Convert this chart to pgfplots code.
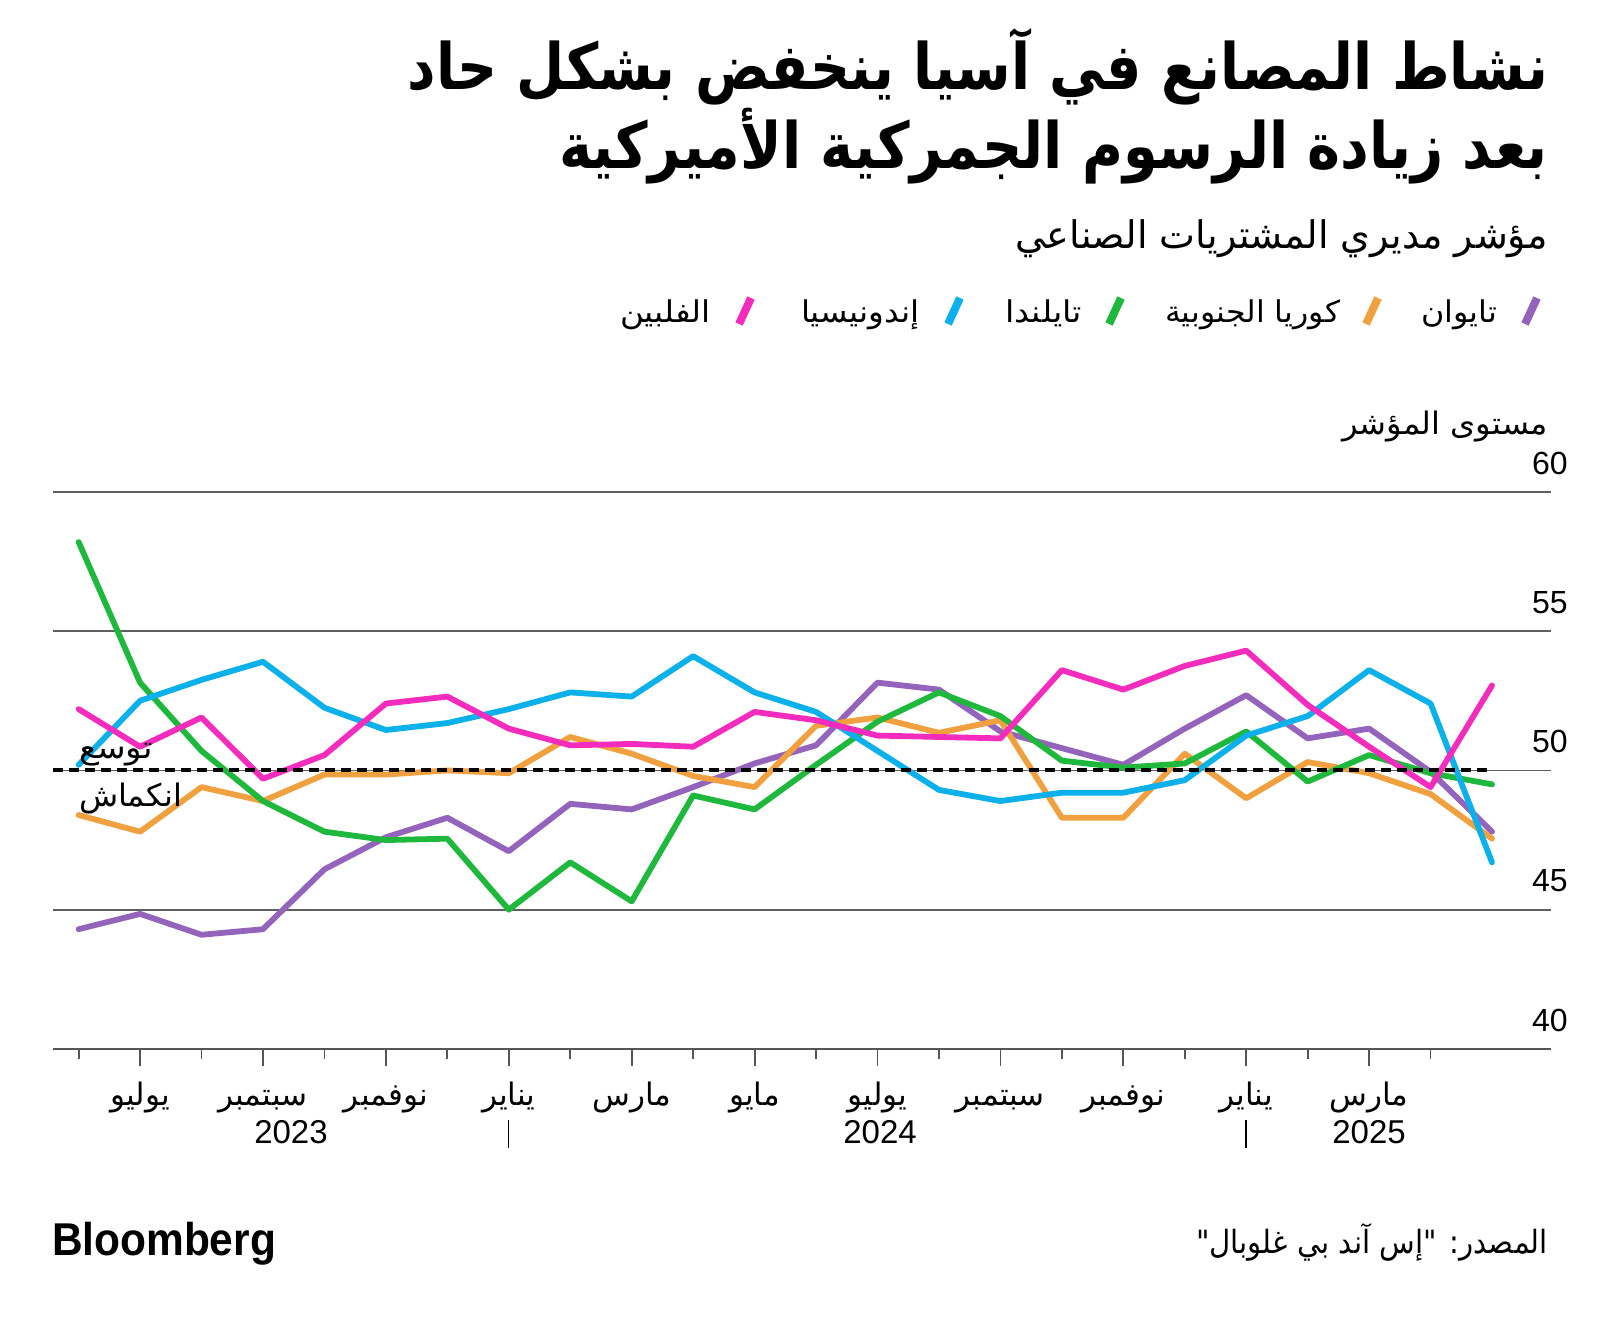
\documentclass[border=0pt]{standalone}
\usepackage{pgfplots}
\pgfplotsset{compat=1.18}
\usepackage{pgfplotstable}
\usepackage{graphicx}
\usepackage{fontspec}
\setmainfont{Liberation Sans}
\newfontfamily\arabicfont[Script=Arabic]{DejaVu Sans}
\TeXXeTstate=1
\definecolor{cTW}{RGB}{148,100,188}
\definecolor{cKR}{RGB}{240,160,62}
\definecolor{cTH}{RGB}{30,184,60}
\definecolor{cID}{RGB}{12,176,234}
\definecolor{cPH}{RGB}{244,44,190}
\definecolor{gridgray}{RGB}{95,95,95}
\definecolor{axgray}{RGB}{85,85,85}
\newsavebox\fitbox
\newcommand\fitw[2]{\sbox\fitbox{#2}\pgfmathsetmacro\fitr{#1/\the\wd\fitbox}\scalebox{\fitr}[1]{\usebox\fitbox}}
\newcommand\AR[2]{{\arabicfont\fontsize{#1}{#1}\selectfont #2}}
\newcommand\ARB[2]{{\arabicfont\bfseries\fontsize{#1}{#1}\selectfont #2}}

\pgfplotstableread{
i tw kr th id ph
0 44.3 48.4 58.2 50.2 52.2
1 44.85 47.8 53.15 52.5 50.85
2 44.1 49.4 50.7 53.25 51.9
3 44.3 48.9 48.9 53.9 49.7
4 46.45 49.85 47.8 52.25 50.55
5 47.6 49.85 47.5 51.45 52.4
6 48.3 50.0 47.55 51.7 52.65
7 47.1 49.9 45.0 52.2 51.5
8 48.8 51.2 46.7 52.8 50.9
9 48.6 50.6 45.3 52.65 50.95
10 49.4 49.8 49.1 54.1 50.85
11 50.25 49.4 48.6 52.8 52.1
12 50.9 51.6 50.2 52.1 51.8
13 53.15 51.9 51.75 50.7 51.25
14 52.9 51.35 52.8 49.3 51.2
15 51.4 51.8 51.95 48.9 51.15
16 50.8 48.3 50.35 49.2 53.6
17 50.2 48.3 50.1 49.2 52.9
18 51.5 50.6 50.25 49.65 53.75
19 52.7 49.0 51.4 51.25 54.3
20 51.15 50.3 49.6 51.95 52.35
21 51.5 49.9 50.55 53.6 50.85
22 49.95 49.15 49.9 52.4 49.4
23 47.8 47.55 49.5 46.7 53.05
}\pmidata

\begin{document}
\begin{tikzpicture}
\begin{scope}[x=0.5pt,y=-0.5pt]
\path[use as bounding box] (0,0) rectangle (1600,1321);
\end{scope}

\begin{axis}[
  at={(26.5pt,-524.5pt)}, anchor=south west,
  scale only axis, width=749pt, height=278.6pt,
  xmin=-0.417, xmax=23.96, ymin=40, ymax=60,
  separate axis lines,
  axis x line*=bottom, axis y line*=right,
  x axis line style={-, draw=axgray, line width=1.25pt},
  y axis line style={draw=none},
  ytick={40,45,50,55,60},
  ymajorgrids, major grid style={draw=gridgray, line width=0.9pt},
  ytick style={draw=none},
  /pgf/number format/assume math mode=true,
  yticklabel style={anchor=south east, inner sep=0pt, yshift=8.5pt, xshift=0pt, font=\fontsize{16}{16}\selectfont},
  xtick={1,3,...,21}, minor xtick={0,2,...,22},
  xticklabels={},
  tick align=outside,
  major tick length=8.5pt, minor tick length=5pt,
  xtick style={draw=axgray, line width=0.9pt},
  every tick/.style={draw=axgray, line width=0.9pt},
  clip=false,
]
\addplot[cTW, line width=2.9pt, line join=round, line cap=round] table[x=i, y=tw] {\pmidata};
\addplot[cKR, line width=2.9pt, line join=round, line cap=round] table[x=i, y=kr] {\pmidata};
\addplot[cTH, line width=2.9pt, line join=round, line cap=round] table[x=i, y=th] {\pmidata};
\addplot[cID, line width=2.9pt, line join=round, line cap=round] table[x=i, y=id] {\pmidata};
\addplot[cPH, line width=2.9pt, line join=round, line cap=round] table[x=i, y=ph] {\pmidata};
\addplot[black, line width=2pt, dash pattern=on 5pt off 3pt] coordinates {(-0.417,50) (23,50)};
\end{axis}

\begin{scope}[x=0.5pt,y=-0.5pt, every node/.style={inner sep=0pt, outer sep=0pt}]
% title
\node[anchor=base east] at (1548,90) {\fitw{570pt}{\ARB{32}{\beginR نشاط المصانع في آسيا ينخفض بشكل حاد\endR}}};
\node[anchor=base east] at (1548,169) {\fitw{494.5pt}{\ARB{32}{\beginR بعد زيادة الرسوم الجمركية الأميركية\endR}}};
\node[anchor=base east] at (1548,249) {\fitw{266.5pt}{\AR{19}{\beginR مؤشر مديري المشتريات الصناعي\endR}}};
% legend
\foreach \cx/\col in {1531/cTW,1372/cKR,1115/cTH,954/cID,745/cPH}{
  \draw[\col, line width=4pt] (\cx-6,324) -- (\cx+6,298);
}
\node[anchor=base east] at (1497,322) {\fitw{38pt}{\AR{15}{\beginR تايوان\endR}}};
\node[anchor=base east] at (1340,322) {\fitw{87.5pt}{\AR{15}{\beginR كوريا الجنوبية\endR}}};
\node[anchor=base east] at (1082,322) {\fitw{38.5pt}{\AR{15}{\beginR تايلندا\endR}}};
\node[anchor=base east] at (920,322) {\fitw{59.5pt}{\AR{15}{\beginR إندونيسيا\endR}}};
\node[anchor=base east] at (711,322) {\fitw{45.5pt}{\AR{15}{\beginR الفلبين\endR}}};
% y label
\node[anchor=base east] at (1548,434) {\fitw{103pt}{\AR{15.5}{\beginR مستوى المؤشر\endR}}};
% expansion / contraction
\node[anchor=base west] at (79,758) {\fitw{37pt}{\AR{15.5}{\beginR توسع\endR}}};
\node[anchor=base west] at (79,806) {\fitw{51.5pt}{\AR{15.5}{\beginR انكماش\endR}}};
% month labels
\foreach \i/\m in {1/يوليو,3/سبتمبر,5/نوفمبر,7/يناير,9/مارس,11/مايو,13/يوليو,15/سبتمبر,17/نوفمبر,19/يناير,21/مارس}{
  \node[anchor=base] at ({78.6+61.45*\i},1105) {\AR{15.5}{\beginR\m\endR}};
}
\node[anchor=base] at (291,1143) {\fontsize{16.5}{16.5}\selectfont 2023};
\node[anchor=base] at (880,1143) {\fontsize{16.5}{16.5}\selectfont 2024};
\node[anchor=base] at (1369,1143) {\fontsize{16.5}{16.5}\selectfont 2025};
\draw[black, line width=0.6pt] (508.8,1120) -- (508.8,1148);
\draw[black, line width=0.6pt] (1246,1120) -- (1246,1148);
% footer
\node[anchor=base west] at (52,1255) {\fitw{112pt}{\fontsize{23}{23}\selectfont\bfseries Bloomberg}};
\node[anchor=base east] at (1548,1253) {\fitw{176pt}{\AR{16}{\beginR المصدر: "إس آند بي غلوبال"\endR}}};
\end{scope}
\end{tikzpicture}
\end{document}
